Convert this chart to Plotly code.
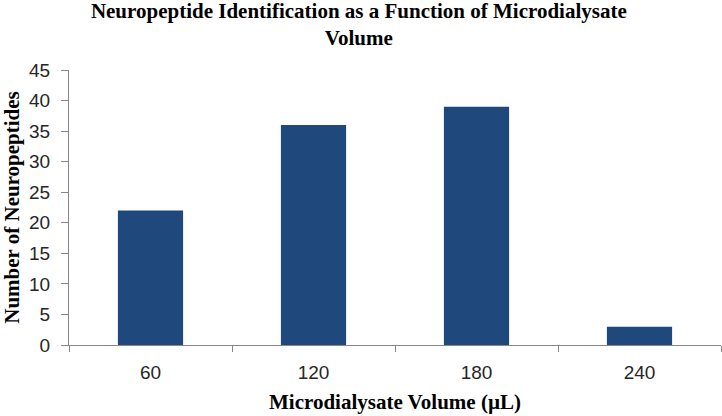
import plotly.graph_objects as go

categories = ["60", "120", "180", "240"]
neuropeptides = [22, 36, 39, 3]
y_ticks = [0, 5, 10, 15, 20, 25, 30, 35, 40, 45]

fig = go.Figure(go.Bar(
    x=categories, y=neuropeptides,
    marker=dict(color="#1f497d", line=dict(width=0)),
    width=0.4,
))

serif = "Liberation Serif"
tickfont = dict(family="Liberation Sans", size=19, color="#262626")
fig.update_layout(
    width=722, height=416,
    margin=dict(l=69, r=1, t=70, b=71, autoexpand=False),
    paper_bgcolor="white", plot_bgcolor="white",
    showlegend=False,
    title=dict(
        text="<b>Neuropeptide Identification as a Function of Microdialysate<br>Volume</b>",
        x=0.497, xanchor="center", y=0.957, yanchor="middle",
        font=dict(family=serif, size=21, color="black"),
    ),
    xaxis=dict(
        type="category", automargin=False,
        showline=True, linecolor="#868686", linewidth=1,
        ticks="outside", tickson="boundaries", ticklen=6, tickcolor="#868686",
        tickfont=tickfont,
        ticklabelstandoff=10,
        title=dict(text="<b>Microdialysate Volume (µL)</b>",
                   font=dict(family=serif, size=21, color="black"), standoff=12),
        showgrid=False,
    ),
    yaxis=dict(
        range=[0, 45], tickvals=y_ticks, automargin=False,
        showline=True, linecolor="#868686", linewidth=1,
        ticks="outside", ticklen=7, tickcolor="#868686",
        tickfont=tickfont,
        ticklabelstandoff=7,
        title=dict(text="<b>Number of Neuropeptides</b>",
                   font=dict(family=serif, size=21, color="black"), standoff=6),
        showgrid=False, zeroline=False,
    ),
)

fig.write_html(
    "out.html",
    config={"displayModeBar": False},
    post_script="document.body.style.margin='0';document.body.style.padding='0';",
)
